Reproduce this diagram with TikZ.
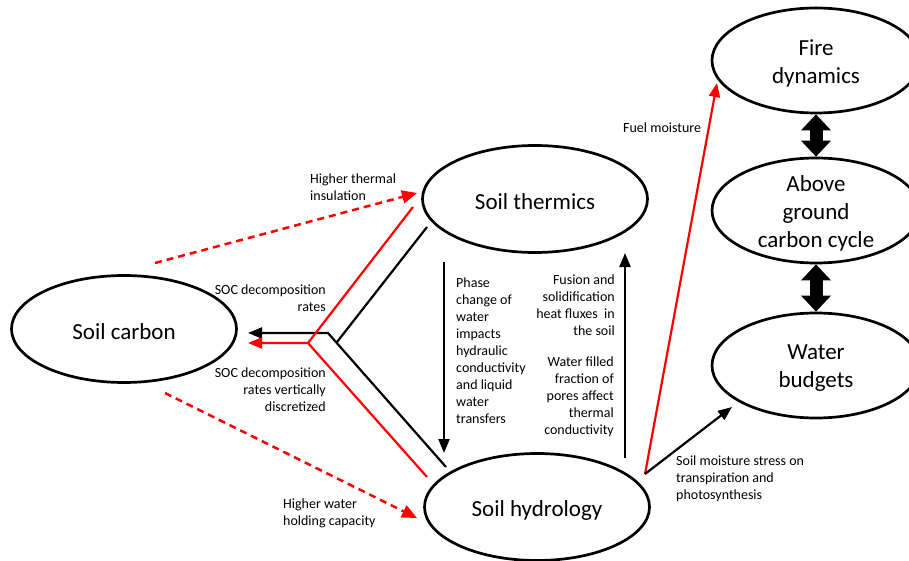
\documentclass[tikz,border=0pt]{standalone}
\usepackage{fontspec}
\setmainfont{Carlito}
\usetikzlibrary{shapes.geometric,arrows.meta}
\tikzset{
  ell/.style={draw=black, line width=2.7pt, ellipse, inner sep=0pt},
  bigell/.style={ell, minimum width=225pt, minimum height=107pt},
  sideell/.style={ell, minimum width=208pt, minimum height=105pt},
  bigtxt/.style={inner sep=0pt, align=center, font=\fontsize{23}{28}\selectfont},
  lbl/.style={inner sep=0pt, font=\fontsize{14}{17}\selectfont},
  conn/.style={line width=2.2pt, line join=miter},
  tip/.style={-{Triangle[length=14pt,width=11pt]}},
  redtip/.style={-{Triangle[length=15pt,width=13pt]}},
  reddash/.style={red, line width=2.5pt, dash pattern=on 7pt off 5pt, redtip},
  blockarr/.style={line width=13pt, {Triangle[length=16pt,width=29pt]}-{Triangle[length=16pt,width=29pt]}}
}
\begin{document}
\begin{tikzpicture}[x=1pt,y=-1pt]
\useasboundingbox (0,0) rectangle (909,561);
% ellipses
\node[bigell] (carbon) at (124,329) {};
\node[bigell] (therm) at (535,199) {};
\node[bigell] (hydro) at (537,507) {};
\node[sideell] (fire) at (816,60.5) {};
\node[sideell] (agc) at (816,210.5) {};
\node[sideell] (water) at (816,365.5) {};
\node[bigtxt] (carbonT) at ([yshift=-3pt]carbon.center) {Soil carbon};
\node[bigtxt] (thermT) at ([yshift=-3pt]therm.center) {Soil thermics};
\node[bigtxt] (hydroT) at ([yshift=-3pt]hydro.center) {Soil hydrology};
\node[bigtxt] (fireT) at ([yshift=-3pt]fire.center) {Fire\\dynamics};
\node[bigtxt] (agcT) at ([yshift=-3pt]agc.center) {Above\\ground\\carbon cycle};
\node[bigtxt] (waterT) at ([yshift=-3pt]water.center) {Water\\budgets};
% block arrows
\draw[blockarr] (fire.south) -- (agc.north);
\draw[blockarr] (agc.south) -- (water.north);
% coordinates for the Y junction
\coordinate (bT) at (427,227);
\coordinate (bJ) at (337,342);
\coordinate (bC) at (328,333);
\coordinate (bH) at (446,467);
\coordinate (bTip) at (248,333);
\coordinate (rT) at (413,207);
\coordinate (rJ) at (308,343);
\coordinate (rH) at (427,477);
\coordinate (rTip) at (248,343);
\draw[conn, tip] (bH) -- (bC) -- (bTip);
\draw[conn] (bT) -- (bJ);
\draw[conn, red, tip] (rT) -- (rJ) -- (rTip);
\draw[conn, red] (rJ) -- (rH);
% dashed red
\coordinate (dU1) at (155,263);
\coordinate (dU2) at (417,193);
\coordinate (dL1) at (165,393);
\coordinate (dL2) at (417,518);
\draw[reddash] (dU1) -- (dU2);
\draw[reddash] (dL1) -- (dL2);
% vertical arrows
\coordinate (vD1) at (444,262);
\coordinate (vD2) at (444,453);
\coordinate (vU1) at (625,458);
\coordinate (vU2) at (625,253);
\draw[conn, tip] (vD1) -- (vD2);
\draw[conn, tip] (vU1) -- (vU2);
% right arrows
\coordinate (hS) at (645,474);
\coordinate (fT) at (717,83);
\coordinate (wT) at (732,407);
\draw[conn, red, tip] (hS) -- (fT);
\draw[conn, tip] (hS) -- (wT);
% labels
\node[lbl, anchor=west, align=left] (l1) at (310,187) {Higher thermal\\insulation};
\node[lbl, anchor=east, align=right] (l2) at (326,298) {SOC decomposition\\rates};
\node[lbl, anchor=east, align=right] (l3) at (326,390) {SOC decomposition\\rates vertically\\discretized};
\node[lbl, anchor=west, align=left] (l4) at (283,513) {Higher water\\holding capacity};
\node[lbl, anchor=west, align=left] (l5) at (456,351) {Phase\\change of\\water\\impacts\\hydraulic\\conductivity\\and liquid\\water\\transfers};
\node[lbl, anchor=east, align=right] (l6) at (615,305) {Fusion and\\solidification\\heat fluxes~ in\\the soil};
\node[lbl, anchor=east, align=right] (l7) at (614,397) {Water filled\\fraction of\\pores affect\\thermal\\conductivity};
\node[lbl, anchor=west, align=left] (l8) at (676,479) {Soil moisture stress on\\transpiration and\\photosynthesis};
\node[lbl, anchor=west, align=left] (l9) at (623,128) {Fuel moisture};
\end{tikzpicture}
\end{document}
